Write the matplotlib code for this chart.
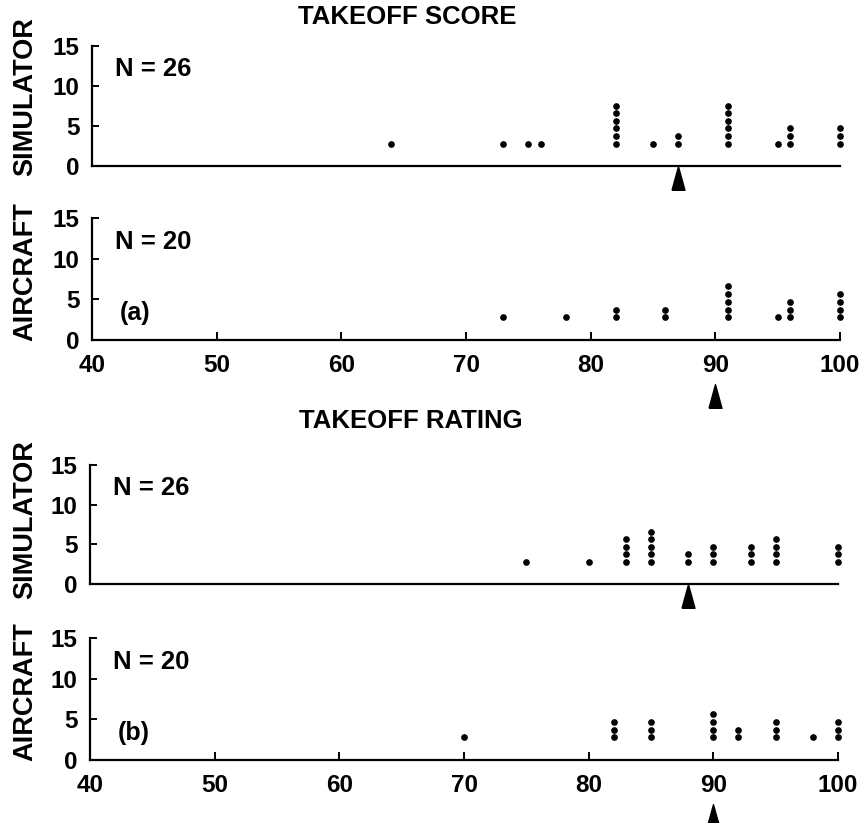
import matplotlib
matplotlib.use("Agg")
import matplotlib.pyplot as plt

plt.rcParams['font.family'] = ['Liberation Sans', 'DejaVu Sans']
plt.rcParams['font.weight'] = 'bold'

# ---- data ----
sim_score_x = [64, 73, 75, 76, 82, 85, 87, 91, 95, 96, 100]
sim_score_n = [1, 1, 1, 1, 6, 1, 2, 6, 1, 3, 3]
air_score_x = [73, 78, 82, 86, 91, 95, 96, 100]
air_score_n = [1, 1, 2, 2, 5, 1, 3, 4]
sim_rating_x = [75, 80, 83, 85, 88, 90, 93, 95, 100]
sim_rating_n = [1, 1, 4, 5, 2, 3, 3, 4, 3]
air_rating_x = [70, 82, 85, 90, 92, 95, 98, 100]
air_rating_n = [1, 3, 3, 4, 2, 3, 1, 3]
medians = [87, 90, 88, 90]
n_labels = ["N = 26", "N = 20", "N = 26", "N = 20"]
panel_tags = [None, "(a)", None, "(b)"]
titles = ["TAKEOFF SCORE", "TAKEOFF RATING"]
row_labels = ["SIMULATOR", "AIRCRAFT"]
x_ticks = [40, 50, 60, 70, 80, 90, 100]
y_ticks = [0, 5, 10, 15]

W, H = 865, 823
fig = plt.figure(figsize=(W / 100, H / 100), dpi=100)

def frac(x0, y0, x1, y1):
    return [x0 / W, 1 - y1 / H, (x1 - x0) / W, (y1 - y0) / H]

rects = [frac(92, 46, 840, 166), frac(92, 218, 840, 340),
         frac(90, 465, 838, 584), frac(90, 638, 838, 760)]
datasets = [(sim_score_x, sim_score_n), (air_score_x, air_score_n),
            (sim_rating_x, sim_rating_n), (air_rating_x, air_rating_n)]

tall_tri = [(-0.55, -1.0), (0.55, -1.0), (0.0, 1.0), (-0.55, -1.0)]

base, step = 2.8, 0.95
for i, (rect, (xs, ns)) in enumerate(zip(rects, datasets)):
    ax = fig.add_axes(rect)
    ax.set_xlim(40, 100)
    ax.set_ylim(0, 15)
    for s in ['top', 'right']:
        ax.spines[s].set_visible(False)
    ax.spines['left'].set_linewidth(1.6)
    ax.spines['bottom'].set_linewidth(1.6)
    ax.set_yticks(y_ticks)
    ax.set_yticklabels([str(v) for v in y_ticks], fontsize=17.5, fontweight='bold')
    ax.tick_params(axis='y', direction='in', length=5, width=1.4, pad=9)
    bottom_row = (i % 2 == 1)
    if bottom_row:
        ax.set_xticks(x_ticks)
        ax.set_xticklabels([str(v) for v in x_ticks], fontsize=17.5, fontweight='bold')
        ax.tick_params(axis='x', direction='in', length=6, width=1.4, pad=10)
    else:
        ax.set_xticks([])
    for x, n in zip(xs, ns):
        ys = [base + k * step for k in range(n)]
        ax.plot([x] * n, ys, 'o', color='black', markersize=3.8, clip_on=False)
    my = -6.9 if bottom_row else -1.5
    ax.plot([medians[i]], [my], marker=tall_tri, color='black', markersize=17,
            clip_on=False, linestyle='none')
    ax.text(41.85, 12.1, n_labels[i], fontsize=18.5, fontweight='bold', va='center', ha='left')
    if panel_tags[i]:
        ax.text(42.2, 3.3, panel_tags[i], fontsize=18, fontweight='bold', va='center', ha='left')

fig.text(407 / W, 1 - 17 / H, titles[0], fontsize=18.5, fontweight='bold', ha='center', va='center')
fig.text(411 / W, 1 - 421 / H, titles[1], fontsize=18.5, fontweight='bold', ha='center', va='center')
for yc, lab in [(97, row_labels[0]), (272, row_labels[1]), (520, row_labels[0]), (692, row_labels[1])]:
    fig.text(25 / W, 1 - yc / H, lab, fontsize=19.5, fontweight='bold', rotation=90,
             ha='center', va='center')

fig.savefig("out.png", dpi=100)
